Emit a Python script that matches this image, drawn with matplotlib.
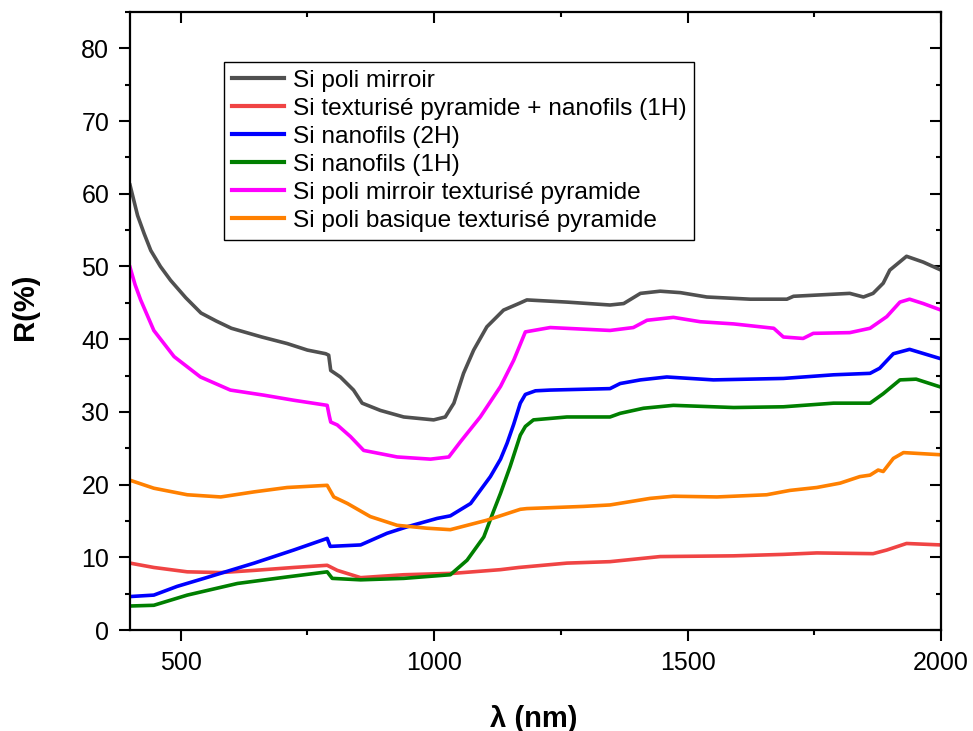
import matplotlib
matplotlib.use("Agg")
import matplotlib.pyplot as plt
from matplotlib.ticker import MultipleLocator

plt.rcParams['font.family'] = ['Liberation Sans', 'DejaVu Sans']

# Values (wavelength nm, reflectance %)
gray_x = [400, 415, 428, 441, 460, 480, 510, 540, 570, 600, 660, 710, 750, 786, 792, 796,
          815, 841, 858, 894, 940, 999, 1022, 1039, 1058, 1078, 1104, 1137, 1167, 1183,
          1262, 1347, 1374, 1407, 1446, 1486, 1538, 1624, 1696, 1709, 1820, 1847, 1866,
          1886, 1899, 1932, 1965, 2000]
gray_y = [61.2, 57.0, 54.5, 52.2, 50.0, 48.1, 45.7, 43.6, 42.5, 41.5, 40.3, 39.4, 38.5, 38.0, 37.8, 35.7,
          34.8, 33.0, 31.2, 30.2, 29.3, 28.9, 29.3, 31.2, 35.3, 38.5, 41.7, 44.0, 44.9, 45.4,
          45.1, 44.7, 44.9, 46.3, 46.6, 46.4, 45.8, 45.5, 45.5, 45.9, 46.3, 45.8, 46.3,
          47.7, 49.5, 51.4, 50.6, 49.5]

red_x = [400, 447, 513, 579, 645, 723, 789, 809, 855, 940, 1039, 1131, 1167, 1262, 1347,
         1446, 1591, 1689, 1755, 1866, 1893, 1932, 2000]
red_y = [9.2, 8.6, 8.0, 7.9, 8.2, 8.6, 8.9, 8.2, 7.2, 7.6, 7.8, 8.3, 8.6, 9.2, 9.4,
         10.1, 10.2, 10.4, 10.6, 10.5, 11.0, 11.9, 11.7]

blue_x = [400, 447, 493, 546, 645, 723, 789, 795, 855, 907, 947, 1006, 1032, 1072, 1111,
          1131, 1144, 1157, 1170, 1180, 1200, 1229, 1347, 1367, 1407, 1459, 1551, 1689,
          1788, 1860, 1879, 1906, 1938, 2000]
blue_y = [4.6, 4.8, 6.0, 7.1, 9.2, 11.0, 12.6, 11.5, 11.7, 13.3, 14.2, 15.35, 15.7, 17.4, 21.1,
          23.5, 25.7, 28.3, 31.2, 32.4, 32.9, 33.0, 33.2, 33.9, 34.4, 34.8, 34.4, 34.6,
          35.1, 35.3, 36.0, 38.0, 38.6, 37.3]

green_x = [400, 447, 513, 612, 710, 789, 799, 855, 940, 1032, 1065, 1098, 1117, 1131, 1150,
           1170, 1180, 1196, 1262, 1347, 1367, 1413, 1472, 1591, 1689, 1788, 1860, 1886,
           1919, 1951, 2000]
green_y = [3.3, 3.4, 4.8, 6.4, 7.3, 8.0, 7.1, 6.9, 7.1, 7.6, 9.6, 12.8, 16.3, 18.8, 22.5,
           26.8, 28.0, 28.9, 29.3, 29.3, 29.8, 30.5, 30.9, 30.6, 30.7, 31.2, 31.2, 32.5,
           34.4, 34.5, 33.4]

magenta_x = [400, 410, 421, 447, 487, 539, 598, 664, 723, 789, 793, 796, 809, 835, 861, 927,
             993, 1029, 1052, 1091, 1131, 1157, 1180, 1229, 1347, 1393, 1420, 1472, 1525,
             1591, 1670, 1689, 1728, 1748, 1820, 1860, 1893, 1919, 1938, 1965, 2000]
magenta_y = [49.9, 47.5, 45.4, 41.2, 37.6, 34.8, 33.0, 32.3, 31.6, 30.9, 29.5, 28.6, 28.2, 26.6, 24.7, 23.8,
             23.5, 23.8, 25.9, 29.3, 33.5, 37.1, 41.0, 41.6, 41.2, 41.6, 42.6, 43.0, 42.4,
             42.1, 41.5, 40.3, 40.1, 40.8, 40.9, 41.5, 43.1, 45.1, 45.5, 44.9, 44.0]

orange_x = [400, 447, 513, 579, 645, 710, 789, 802, 829, 874, 927, 986, 1032, 1104, 1170,
            1183, 1295, 1347, 1426, 1472, 1558, 1656, 1702, 1755, 1801, 1840, 1860, 1876,
            1886, 1906, 1926, 2000]
orange_y = [20.6, 19.5, 18.6, 18.3, 19.0, 19.6, 19.9, 18.3, 17.4, 15.6, 14.4, 14.0, 13.8, 15.1, 16.6,
            16.7, 17.0, 17.2, 18.1, 18.4, 18.3, 18.6, 19.2, 19.6, 20.2, 21.1, 21.3, 22.0,
            21.8, 23.6, 24.4, 24.1]

series = [
    ("Si poli mirroir", gray_x, gray_y, "#505050"),
    ("Si texturisé pyramide + nanofils (1H)", red_x, red_y, "#f04444"),
    ("Si nanofils (2H)", blue_x, blue_y, "#0000ff"),
    ("Si nanofils (1H)", green_x, green_y, "#007f00"),
    ("Si poli mirroir texturisé pyramide", magenta_x, magenta_y, "#ff00ff"),
    ("Si poli basique texturisé pyramide", orange_x, orange_y, "#ff8000"),
]

fig = plt.figure(figsize=(9.73, 7.31), dpi=100)
ax = fig.add_axes([130 / 973, 101 / 731, 811 / 973, 618 / 731])

for label, xs, ys, color in series:
    ax.plot(xs, ys, color=color, lw=2.6, label=label)

ax.set_xlim(400, 2000)
ax.set_ylim(0, 85)
ax.xaxis.set_major_locator(MultipleLocator(500))
ax.xaxis.set_minor_locator(MultipleLocator(250))
ax.yaxis.set_major_locator(MultipleLocator(10))
ax.yaxis.set_minor_locator(MultipleLocator(5))

for s in ax.spines.values():
    s.set_linewidth(1.6)

ax.tick_params(which="both", direction="out", width=1.5, labelsize=18, pad=7)
ax.tick_params(which="major", length=8)
ax.tick_params(which="minor", length=3.8)
ax.tick_params(which="both", top=True, right=True)
# top / right ticks point inwards
for t in ax.xaxis.get_major_ticks() + ax.xaxis.get_minor_ticks():
    t.tick2line.set_marker(3)
for t in ax.yaxis.get_major_ticks() + ax.yaxis.get_minor_ticks():
    t.tick2line.set_marker(0)

ax.set_xlabel("λ (nm)", fontsize=21, fontweight="bold")
ax.set_ylabel("R(%)", fontsize=21, fontweight="bold")
ax.xaxis.set_label_coords(0.498, -0.121)
ax.yaxis.set_label_coords(-0.112, 0.523)

leg = ax.legend(loc="upper left", bbox_to_anchor=(0.116, 0.919), fontsize=17.6,
                frameon=True, fancybox=False, edgecolor="black", framealpha=1,
                handlelength=2.15, handletextpad=0.35, labelspacing=0.24,
                borderpad=0.32, borderaxespad=0)
leg.get_frame().set_linewidth(1.0)
for line in leg.get_lines():
    line.set_linewidth(3)

fig.savefig("out.png", dpi=100)
